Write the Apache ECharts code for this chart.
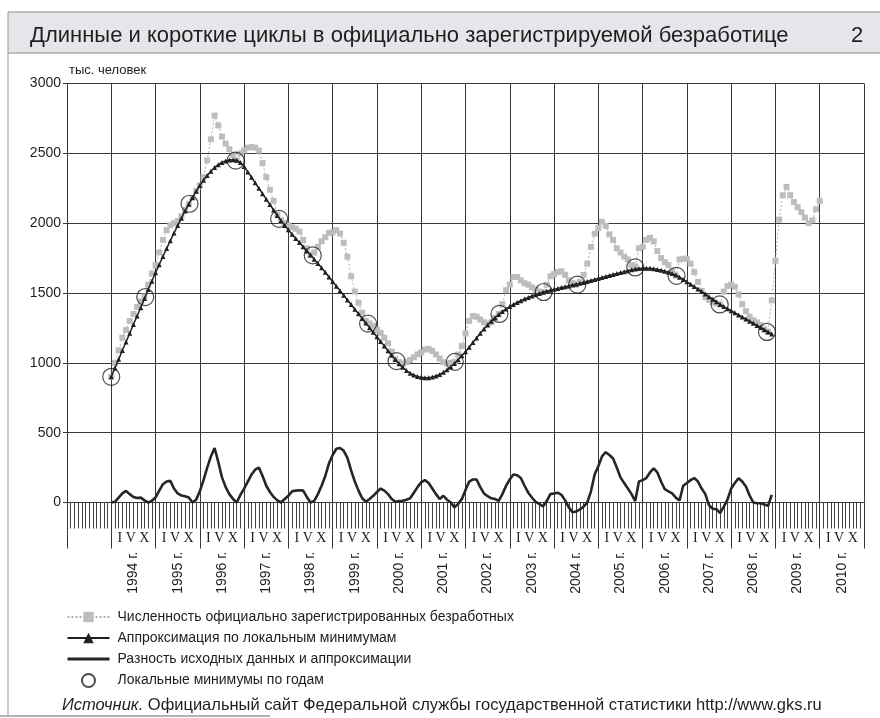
<!DOCTYPE html>
<html>
<head>
<meta charset="utf-8">
<script src="https://cdn.jsdelivr.net/npm/echarts@6/dist/echarts.min.js"></script>
<style>
  html, body { margin: 0; padding: 0; background: #fff; }
  #main { width: 880px; height: 718px; }
</style>
</head>
<body>
<div id="main"></div>
<script>
// столбцы по годам (1993 - пустой столбец слева)
var years = ['1993', '1994', '1995', '1996', '1997', '1998', '1999', '2000', '2001',
  '2002', '2003', '2004', '2005', '2006', '2007', '2008', '2009', '2010'];
var monthMarks = 'I V X';
var firstMonth = 12; // январь 1994 г. от начала оси (январь 1993 г.)

// численность официально зарегистрированных безработных, тыс. чел., с января 1994 г.
var unemployed = [
  900, 1000, 1090, 1180, 1235, 1300, 1350, 1400, 1440, 1475, 1560, 1640,
  1700, 1790, 1880, 1950, 1985, 2000, 2015, 2050, 2095, 2136, 2180, 2230,
  2270, 2330, 2450, 2600, 2770, 2700, 2620, 2570, 2530, 2490, 2450, 2500,
  2520, 2540, 2545, 2540, 2520, 2430, 2330, 2240, 2160, 2060, 2020, 2000,
  1985, 1970, 1960, 1940, 1880, 1820, 1772, 1790, 1830, 1870, 1900, 1930,
  1935, 1950, 1925, 1860, 1760, 1620, 1510, 1430, 1360, 1300, 1282, 1265,
  1235, 1215, 1180, 1140, 1080, 1025, 1005, 995, 1005, 1020, 1040, 1060,
  1075, 1095, 1100, 1085, 1060, 1030, 1005, 995, 1000, 1007, 1060, 1120,
  1210, 1300, 1335, 1330, 1310, 1290, 1280, 1290, 1320, 1350, 1420, 1520,
  1560, 1615, 1615, 1590, 1570, 1560, 1540, 1525, 1510, 1505, 1560, 1620,
  1635, 1650, 1655, 1630, 1590, 1570, 1560, 1580, 1630, 1710, 1830, 1925,
  1965, 2010, 1980, 1920, 1880, 1820, 1790, 1760, 1740, 1700, 1690, 1820,
  1830, 1880, 1895, 1870, 1800, 1750, 1720, 1700, 1660, 1625, 1740, 1745,
  1745, 1710, 1650, 1580, 1515, 1470, 1450, 1435, 1425, 1418, 1510, 1550,
  1560, 1545, 1490, 1420, 1370, 1330, 1305, 1290, 1270, 1240, 1222, 1447,
  1731, 2026, 2200, 2260, 2200, 2151, 2115, 2079, 2040, 2000, 2020, 2100,
  2160
];

// аппроксимация по локальным минимумам, 1994-2008
var approx = [
  900, 963, 1025, 1088, 1150, 1212, 1274, 1335, 1395, 1460, 1525, 1585,
  1645, 1703, 1761, 1818, 1874, 1929, 1983, 2036, 2087, 2136, 2183, 2228,
  2270, 2308, 2342, 2372, 2398, 2419, 2435, 2446, 2452, 2454, 2450, 2435,
  2405, 2367, 2328, 2289, 2250, 2211, 2172, 2133, 2094, 2055, 2018, 1984,
  1952, 1921, 1891, 1861, 1831, 1801, 1772, 1742, 1711, 1680, 1648, 1615,
  1582, 1549, 1516, 1483, 1450, 1417, 1384, 1351, 1318, 1285, 1252, 1219,
  1186, 1153, 1120, 1087, 1054, 1023, 994, 968, 945, 926, 912, 902,
  896, 893, 894, 898, 906, 917, 932, 950, 970, 995, 1022, 1050,
  1080, 1112, 1145, 1178, 1211, 1242, 1271, 1298, 1323, 1346, 1367, 1386,
  1403, 1418, 1432, 1445, 1457, 1468, 1478, 1488, 1497, 1505, 1512, 1519,
  1526, 1533, 1539, 1545, 1551, 1557, 1563, 1569, 1576, 1583, 1590, 1597,
  1604, 1611, 1618, 1625, 1632, 1639, 1646, 1653, 1660, 1666, 1671, 1675,
  1677, 1678, 1677, 1674, 1669, 1663, 1656, 1648, 1639, 1629, 1613, 1597,
  1580, 1563, 1546, 1528, 1510, 1492, 1474, 1456, 1437, 1418, 1403, 1388,
  1373, 1358, 1343, 1328, 1313, 1298, 1283, 1268, 1253, 1237, 1221, 1206
];

// разность исходных данных и аппроксимации
var residual = [
  0, 5, 35, 65, 83, 60, 40, 32, 35, 15, 0, 12,
  36, 85, 131, 150, 155, 100, 65, 50, 45, 36, 0, 20,
  80, 160, 250, 330, 390, 290, 180, 110, 60, 25, 0, 55,
  100, 150, 200, 235, 250, 190, 120, 75, 40, 15, 0, 25,
  48, 80, 85, 88, 85, 40, 0, 12, 60, 120, 190, 280,
  340, 385, 390, 370, 320, 230, 150, 85, 30, 5, 25, 48,
  75, 100, 85, 60, 25, 5, 10, 12, 20, 30, 70, 110,
  145, 160, 140, 100, 60, 25, 48, 20, 0, -35, -10, 24,
  90, 150, 165, 165, 110, 65, 45, 30, 25, 12, 60, 120,
  165, 200, 195, 175, 120, 70, 36, 5, -10, -29, 10, 60,
  65, 70, 55, 15, -35, -70, -65, -50, -30, 0, 80, 200,
  260, 330, 360, 340, 315, 250, 180, 140, 100, 60, 10, 150,
  160, 175, 215, 245, 215, 150, 95, 80, 65, 35, 14, 120,
  140, 160, 175, 150, 100, 60, -20, -45, -48, -75, -30, 20,
  100, 140, 174, 150, 114, 50, 0, -5, -5, -15, -24, 55
];

// локальные минимумы по годам: месяц от января 1994 г. и значение
var minMonths = [0, 9.2, 21.2, 33.7, 45.5, 54.6, 69.6, 77.3, 93.1, 105.2, 117.2, 126.3, 142, 153.2, 164.9, 177.7];
var minValues = [900, 1471, 2139, 2448, 2031, 1769, 1281, 1012, 1007, 1350, 1507, 1560, 1683, 1623, 1418, 1221];

var FONT = '"Liberation Sans", Arial, sans-serif';
var INK = '#1e1e1e';
var GRID = '#3a3a3a';

var names = [
  'Численность официально зарегистрированных безработных',
  'Аппроксимация по локальным минимумам',
  'Разность исходных данных и аппроксимации',
  'Локальные минимумы по годам'
];

function toPoints(arr) {
  return arr.map(function (v, i) { return [firstMonth + i, v]; });
}

var chart = echarts.init(document.getElementById('main'));
var option = {
  animation: false,
  backgroundColor: '#fff',
  graphic: [
    { type: 'rect', shape: { x: 8, y: 12, width: 872, height: 41 },
      style: { fill: '#e5e6ea', stroke: null }, z: -10 },
    { type: 'line', shape: { x1: 8, y1: 12, x2: 880, y2: 12 }, style: { stroke: '#8a8a8a', lineWidth: 1 } },
    { type: 'line', shape: { x1: 8, y1: 53, x2: 880, y2: 53 }, style: { stroke: '#8a8a8a', lineWidth: 1 } },
    { type: 'line', shape: { x1: 8, y1: 12, x2: 8, y2: 716 }, style: { stroke: '#9a9a9a', lineWidth: 1 } },
    { type: 'line', shape: { x1: 0, y1: 716, x2: 270, y2: 716 }, style: { stroke: '#9a9a9a', lineWidth: 1.5 } }
  ],
  title: [
    {
      text: 'Длинные и короткие циклы в официально зарегистрируемой безработице',
      left: 25, top: 20,
      textStyle: { fontFamily: FONT, fontSize: 22, fontWeight: 'normal', color: INK }
    },
    {
      text: '2', left: 846, top: 20,
      textStyle: { fontFamily: FONT, fontSize: 22, fontWeight: 'normal', color: INK }
    },
    {
      text: '{i|Источник.} Официальный сайт Федеральной службы государственной статистики http://www.gks.ru',
      left: 57, top: 692,
      textStyle: {
        fontFamily: FONT, fontSize: 16.5, fontWeight: 'normal', color: INK,
        rich: { i: { fontFamily: FONT, fontSize: 16.5, fontStyle: 'italic', color: INK } }
      }
    }
  ],
  grid: { left: 67, right: 16, top: 83.5, bottom: 215.5, containLabel: false },
  legend: {
    orient: 'vertical', left: 61, top: 605,
    itemWidth: 42, itemHeight: 13, itemGap: 7,
    textStyle: { fontFamily: FONT, fontSize: 14, color: INK, padding: [0, 0, 0, 3] },
    data: [
      names[0],
      names[1],
      { name: names[2], itemStyle: { opacity: 0 }, lineStyle: { width: 3 } },
      names[3]
    ]
  },
  xAxis: [
    {
      type: 'value', min: 0, max: 216, interval: 12,
      axisLine: { show: true, lineStyle: { color: GRID, width: 1 } },
      axisTick: { show: true, length: 46, lineStyle: { color: GRID, width: 1 } },
      minorTick: { show: true, splitNumber: 12, length: 26, lineStyle: { color: '#444', width: 1 } },
      axisLabel: { show: false },
      splitLine: { show: true, lineStyle: { color: GRID, width: 1 } }
    },
    {
      type: 'category', data: years, position: 'bottom', boundaryGap: true,
      axisLine: { show: false }, axisTick: { show: false }, splitLine: { show: false },
      axisLabel: {
        interval: 0, margin: 29, fontFamily: '"Liberation Serif", "DejaVu Serif", serif',
        fontSize: 14, color: INK,
        formatter: function (v) { return v === years[0] ? '' : monthMarks; }
      }
    },
    {
      type: 'category', data: years, position: 'bottom', boundaryGap: true,
      axisLine: { show: false }, axisTick: { show: false }, splitLine: { show: false },
      axisLabel: {
        interval: 0, margin: 49, rotate: 90, fontFamily: FONT, fontSize: 14, color: INK,
        formatter: function (v) { return v === years[0] ? '' : v + ' г.'; }
      }
    }
  ],
  yAxis: {
    type: 'value', min: 0, max: 3000, interval: 500,
    name: 'тыс. человек', nameLocation: 'end', nameGap: 7,
    nameTextStyle: { fontFamily: FONT, fontSize: 13, color: INK, align: 'left', padding: [0, 0, 0, 2] },
    axisLine: { show: true, lineStyle: { color: GRID, width: 1 } },
    axisTick: { show: true, length: 4, lineStyle: { color: GRID } },
    axisLabel: {
      fontFamily: FONT, fontSize: 14, color: INK, margin: 6,
      formatter: function (v) { return String(v); }
    },
    splitLine: { show: true, lineStyle: { color: GRID, width: 1 } }
  },
  series: [
    {
      name: names[0],
      type: 'line', xAxisIndex: 0, data: toPoints(unemployed),
      symbol: 'rect', symbolSize: 6, z: 3,
      itemStyle: { color: '#bdbdbd' },
      lineStyle: { color: '#b0b0b0', width: 1, type: [2, 2] }
    },
    {
      name: names[1],
      type: 'line', xAxisIndex: 0, data: toPoints(approx),
      symbol: 'triangle', symbolSize: 5, z: 4,
      itemStyle: { color: '#202020' },
      lineStyle: { color: '#202020', width: 1.5 }
    },
    {
      name: names[2],
      type: 'line', xAxisIndex: 0, data: toPoints(residual),
      symbol: 'none', clip: false, z: 4,
      itemStyle: { color: '#262626' },
      lineStyle: { color: '#262626', width: 2.6 }
    },
    {
      name: names[3],
      type: 'scatter', xAxisIndex: 0,
      data: minMonths.map(function (m, i) { return [firstMonth + m, minValues[i]]; }),
      symbol: 'circle', symbolSize: 17, z: 5,
      itemStyle: { color: 'rgba(255,255,255,0)', borderColor: '#202020', borderWidth: 1.2 }
    }
  ]
};
chart.setOption(option);
</script>
</body>
</html>
